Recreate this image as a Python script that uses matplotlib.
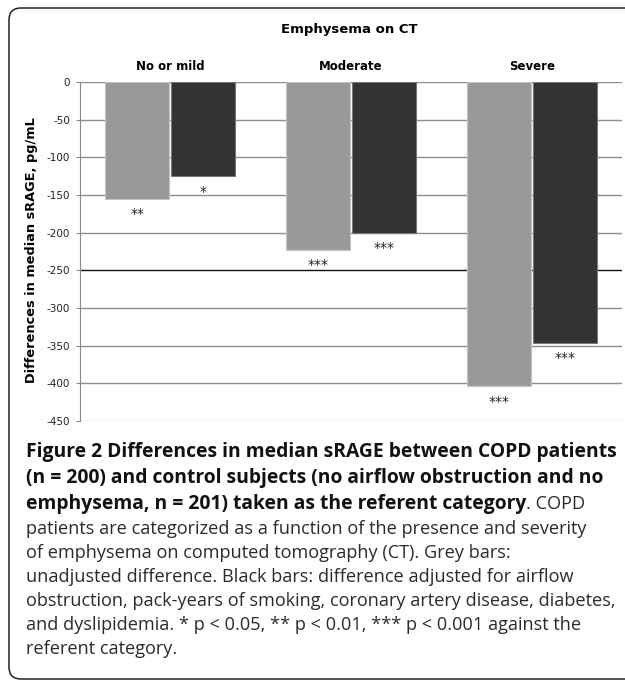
import matplotlib
matplotlib.use('Agg')
import matplotlib.pyplot as plt
from matplotlib.patches import FancyBboxPatch
from matplotlib.transforms import IdentityTransform
import numpy as np

plt.rcParams['axes.unicode_minus'] = False

categories = ['No or mild', 'Moderate', 'Severe']
unadjusted = [-155, -223, -404]
adjusted = [-125, -200, -346]
stars_unadj = ['**', '***', '***']
stars_adj = ['*', '***', '***']
yticks = [0, -50, -100, -150, -200, -250, -300, -350, -400, -450]

caption_bold = ['Figure 2 Differences in median sRAGE between COPD patients',
                '(n = 200) and control subjects (no airflow obstruction and no',
                'emphysema, n = 201) taken as the referent category']
caption_rest = ['. COPD',
                'patients are categorized as a function of the presence and severity',
                'of emphysema on computed tomography (CT). Grey bars:',
                'unadjusted difference. Black bars: difference adjusted for airflow',
                'obstruction, pack-years of smoking, coronary artery disease, diabetes,',
                'and dyslipidemia. * p < 0.05, ** p < 0.01, *** p < 0.001 against the',
                'referent category.']

W, H = 625, 681
fig = plt.figure(figsize=(W / 100, H / 100), dpi=100)

# rounded frame, partly cut off at right and bottom
frame = FancyBboxPatch((9, 2), 660, H - 10, boxstyle='round,pad=0,rounding_size=12',
                       transform=IdentityTransform(), fill=False, lw=1.1,
                       edgecolor='#222222')
fig.patches.append(frame)

ax = fig.add_axes([80 / W, 1 - 421 / H, 542 / W, 339 / H])
x = np.arange(len(categories))
bw = 0.354
off = 0.183
ax.bar(x - off, unadjusted, bw, color='#999999', edgecolor='#c4c4c4', lw=0.8, zorder=3)
ax.bar(x + off, adjusted, bw, color='#333333', edgecolor='#777777', lw=0.8, zorder=3)

for t in yticks:
    if t == -250:
        c = '#111111'
    elif t == -450:
        c = '#cccccc'
    else:
        c = '#8c8c8c'
    ax.axhline(t, color=c, lw=1.0, zorder=1)

for i in range(len(categories)):
    ax.annotate(stars_unadj[i], (x[i] - off, unadjusted[i]), xytext=(0, -14),
                textcoords='offset points', ha='center', va='baseline', fontsize=10,
                color='#222222')
    ax.annotate(stars_adj[i], (x[i] + off, adjusted[i]), xytext=(0, -14),
                textcoords='offset points', ha='center', va='baseline', fontsize=10,
                color='#222222')
    ax.text(x[i], 1 + 15 / 339, categories[i], transform=ax.get_xaxis_transform(),
            ha='center', va='center', fontsize=8.5, fontweight='bold')

ax.set_xlim(-0.5, 2.5)
ax.set_ylim(-450, 0)
ax.set_yticks(yticks)
ax.set_xticks([])
for s in ['top', 'right', 'bottom']:
    ax.spines[s].set_visible(False)
ax.spines['left'].set_color('#888888')
ax.tick_params(axis='y', length=3, color='#888888', labelsize=7.5, labelcolor='#222222', pad=4)

fig.text(349 / W, 1 - 30 / H, 'Emphysema on CT', ha='center', va='center',
         fontsize=9.5, fontweight='bold')
fig.text(32 / W, 1 - 250 / H, 'Differences in median sRAGE, pg/mL', rotation=90,
         ha='center', va='center', fontsize=9.3, fontweight='bold')

# caption, sizes fitted so the widest lines span the same width as the original
renderer = fig.canvas.get_renderer()
left = 26
probe = fig.text(0, 0, caption_bold[0], family='Open Sans', fontweight='bold', fontsize=12)
bsize = 12 * 590 / probe.get_window_extent(renderer).width
probe.remove()
probe = fig.text(0, 0, caption_rest[4], family='Open Sans', fontsize=12)
nsize = 12 * 586 / probe.get_window_extent(renderer).width
probe.remove()

ys = [457, 483, 509, 534, 558, 582, 606, 630, 654]
for i, line in enumerate(caption_bold):
    t = fig.text(left / W, 1 - ys[i] / H, line, ha='left', va='baseline',
                 family='Open Sans', fontweight='bold', fontsize=bsize, color='#111111')
last = t.get_window_extent(renderer)
fig.text(last.x1 / W, 1 - ys[2] / H, caption_rest[0], ha='left', va='baseline',
         family='Open Sans', fontsize=nsize, color='#2a2a2a')
for j, line in enumerate(caption_rest[1:]):
    fig.text(left / W, 1 - ys[3 + j] / H, line, ha='left', va='baseline',
             family='Open Sans', fontsize=nsize, color='#2a2a2a')

fig.savefig('out.png', dpi=100)
